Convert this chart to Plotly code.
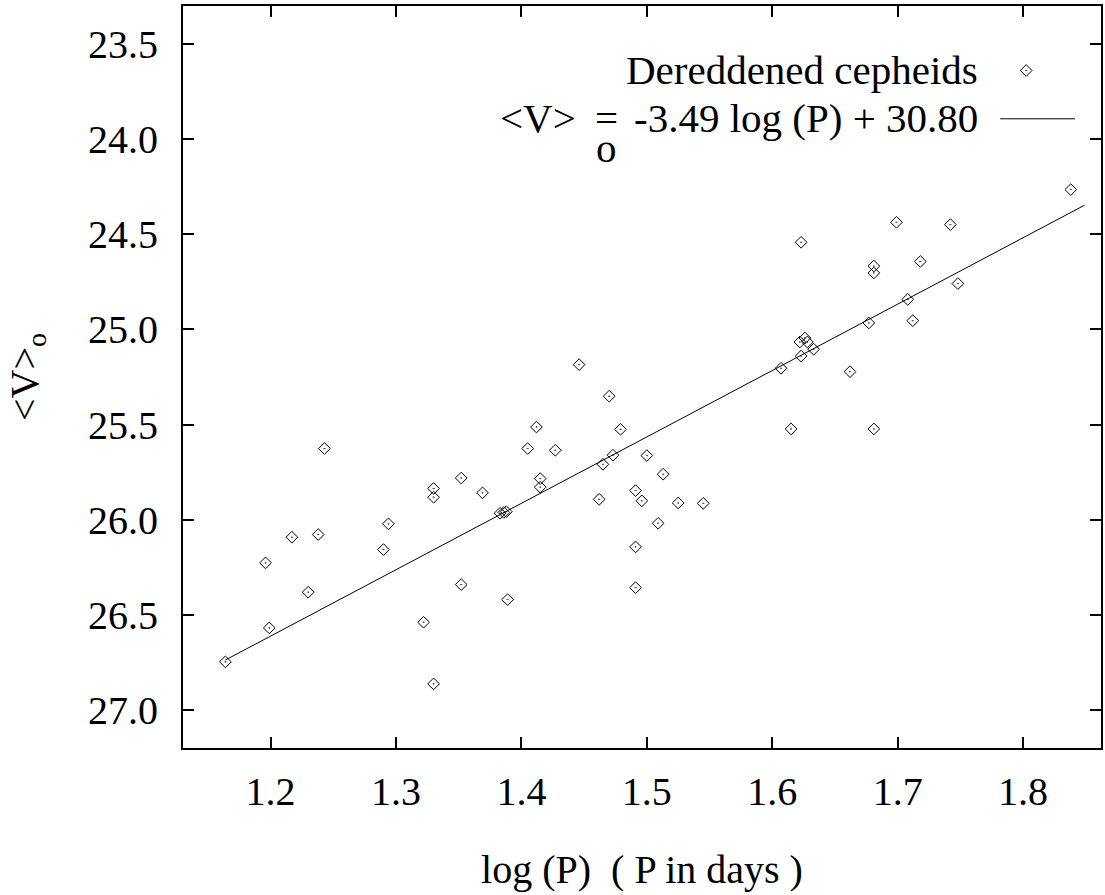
import plotly.graph_objects as go

# ---- data ----
log_p = [1.243, 1.330, 1.330, 1.294, 1.217, 1.238, 1.290, 1.196, 1.230, 1.322,
         1.199, 1.164, 1.330, 1.352, 1.369, 1.383, 1.386, 1.388, 1.352, 1.389,
         1.446, 1.470, 1.412, 1.479, 1.405, 1.427, 1.473, 1.465, 1.500, 1.513,
         1.415, 1.415, 1.462, 1.491, 1.496, 1.525, 1.509, 1.491, 1.491, 1.545,
         1.615, 1.681, 1.662, 1.607, 1.623, 1.633, 1.622, 1.626, 1.628, 1.677,
         1.699, 1.742, 1.718, 1.748, 1.708, 1.712, 1.838, 1.623, 1.681, 1.681]
v0 = [25.626, 25.836, 25.882, 26.022, 26.092, 26.078, 26.157, 26.227, 26.381, 26.539,
      26.569, 26.747, 26.863, 25.781, 25.859, 25.966, 25.962, 25.958, 26.341, 26.420,
      25.185, 25.351, 25.513, 25.525, 25.626, 25.635, 25.661, 25.709, 25.663, 25.761,
      25.784, 25.829, 25.893, 25.847, 25.901, 25.912, 26.019, 26.143, 26.357, 25.914,
      25.523, 25.523, 25.222, 25.204, 25.140, 25.104, 25.066, 25.045, 25.066, 24.966,
      24.437, 24.449, 24.643, 24.759, 24.842, 24.954, 24.265, 24.542, 24.667, 24.703]

fit_slope = -3.49
fit_intercept = 30.80
fit_x = [1.164, 1.849]
fit_y = [fit_slope * x + fit_intercept for x in fit_x]

x_ticks = [1.2, 1.3, 1.4, 1.5, 1.6, 1.7, 1.8]
y_ticks = [23.5, 24.0, 24.5, 25.0, 25.5, 26.0, 26.5, 27.0]

legend_points = "Dereddened cepheids"
legend_fit_tail = "-3.49 log (P) + 30.80"

FONT = '"Liberation Serif", "Times New Roman", Times, serif'
W, H = 1105, 895
L, R, T, B = 183, 2, 6, 147
PW, PH = W - L - R, H - T - B


def px(x):
    return (x - L) / PW


def py(y):
    return (H - B - y) / PH


fig = go.Figure()
fig.add_trace(go.Scatter(x=fit_x, y=fit_y, mode="lines",
                         line=dict(color="black", width=1), showlegend=False,
                         hoverinfo="skip"))
fig.add_trace(go.Scatter(x=log_p, y=v0, mode="markers",
                         marker=dict(symbol="diamond-open-dot", size=9,
                                     color="black", line=dict(width=1, color="black")),
                         showlegend=False))

# legend keys on an overlay axis spanning the paper
fig.add_trace(go.Scatter(x=[px(1028)], y=[py(70.5)], mode="markers", xaxis="x2", yaxis="y2",
                         marker=dict(symbol="diamond-open-dot", size=9, color="black",
                                     line=dict(width=1, color="black")),
                         showlegend=False, hoverinfo="skip"))
fig.add_trace(go.Scatter(x=[px(1002), px(1077)], y=[py(118.8), py(118.8)], mode="lines",
                         xaxis="x2", yaxis="y2", line=dict(color="black", width=1),
                         showlegend=False, hoverinfo="skip"))

ann_font = dict(family=FONT, size=41, color="black")
annotations = [
    dict(text=legend_points, x=px(982), y=py(70), xref="paper", yref="paper",
         xanchor="right", yanchor="middle", showarrow=False, font=ann_font),
    dict(text=legend_fit_tail, x=px(982), y=py(118), xref="paper", yref="paper",
         xanchor="right", yanchor="middle", showarrow=False, font=ann_font),
    dict(text="&lt;V&gt;", x=px(499), y=py(118), xref="paper", yref="paper",
         xanchor="left", yanchor="middle", showarrow=False, font=ann_font),
    dict(text="=", x=px(607), y=py(118), xref="paper", yref="paper",
         xanchor="center", yanchor="middle", showarrow=False, font=ann_font),
    dict(text="o", x=px(607), y=py(148), xref="paper", yref="paper",
         xanchor="center", yanchor="middle", showarrow=False, font=ann_font),
]

axis_common = dict(showline=True, linecolor="black", linewidth=2, mirror="ticks",
                   ticks="inside", ticklen=11, tickwidth=2, tickcolor="black",
                   showgrid=False, zeroline=False,
                   tickfont=dict(family=FONT, size=40, color="black"))

fig.update_layout(
    width=W, height=H,
    margin=dict(l=L, r=R, t=T, b=B),
    paper_bgcolor="white", plot_bgcolor="white",
    font=dict(family=FONT, size=40, color="black"),
    xaxis=dict(range=[1.1302, 1.8621], tickvals=x_ticks,
               ticktext=[f"{v:.1f}" for v in x_ticks], ticklabelstandoff=7,
               title=dict(text="log (P)\u00a0\u00a0( P in days )",
                          font=dict(family=FONT, size=40, color="black"), standoff=42),
               **axis_common),
    yaxis=dict(range=[27.2, 23.3], tickvals=y_ticks,
               ticktext=[f"{v:.1f}" for v in y_ticks], ticklabelstandoff=15,
               title=dict(text="&lt;V&gt;<sub>o</sub>",
                          font=dict(family=FONT, size=40, color="black"), standoff=37),
               **axis_common),
    xaxis2=dict(range=[0, 1], overlaying="x", visible=False),
    yaxis2=dict(range=[0, 1], overlaying="y", visible=False),
    annotations=annotations,
)

fig.write_html("out.html", config={"displayModeBar": False},
               post_script="document.body.style.margin='0';document.body.style.overflow='hidden';")
